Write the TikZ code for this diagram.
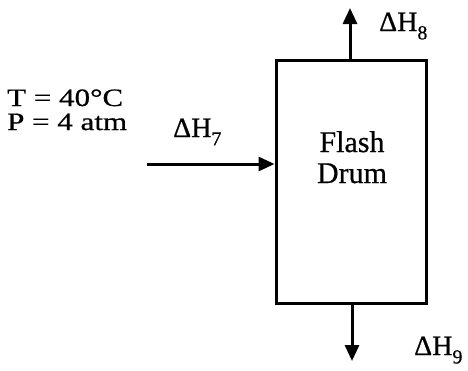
\documentclass[tikz,border=0pt]{standalone}
\usepackage{fontspec}
\setmainfont{Liberation Serif}[FakeBold=0.6]
\newfontfamily\widefont{Liberation Serif}[FakeStretch=1.24, FakeBold=0.6]
\usetikzlibrary{arrows.meta}
\newcommand{\enth}[1]{ΔH\raisebox{-0.3em}{\fontsize{20}{20}\selectfont #1}}
\begin{document}
\begin{tikzpicture}[x=1pt, y=-1pt, font=\fontsize{28}{24}\selectfont,
    vessel/.style={draw, line width=3pt, minimum width=150pt, minimum height=243pt, inner sep=0pt},
    flow/.style={line width=3pt, -{Triangle[length=16pt, width=14pt]}},
    tag/.style={anchor=base west, inner sep=0pt}]
  \useasboundingbox (0,0) rectangle (468,370);
  \node[vessel] (drum) at (351,181.5) {};
  \node[align=center, inner sep=0pt, font=\fontsize{30}{31}\selectfont, anchor=base]
    (name) at (352,183) {Flash\\Drum};
  % streams
  \coordinate (feed) at (147,164);
  \coordinate (vap) at (350,8);
  \coordinate (liq) at (352,361);
  \draw[flow] (feed) -- (feed -| drum.west);
  \draw[flow] (drum.north -| vap) -- (vap);
  \draw[flow] (drum.south -| liq) -- (liq);
  % labels
  \node[tag, align=left, font=\widefont\fontsize{25}{24}\selectfont] (cond) at (7,130)
    {T = 40°C\\P = 4 atm};
  \node[tag] (h7) at (173,137) {\enth{7}};
  \node[tag] (h8) at (379,31) {\enth{8}};
  \node[tag] (h9) at (414,355) {\enth{9}};
\end{tikzpicture}
\end{document}
